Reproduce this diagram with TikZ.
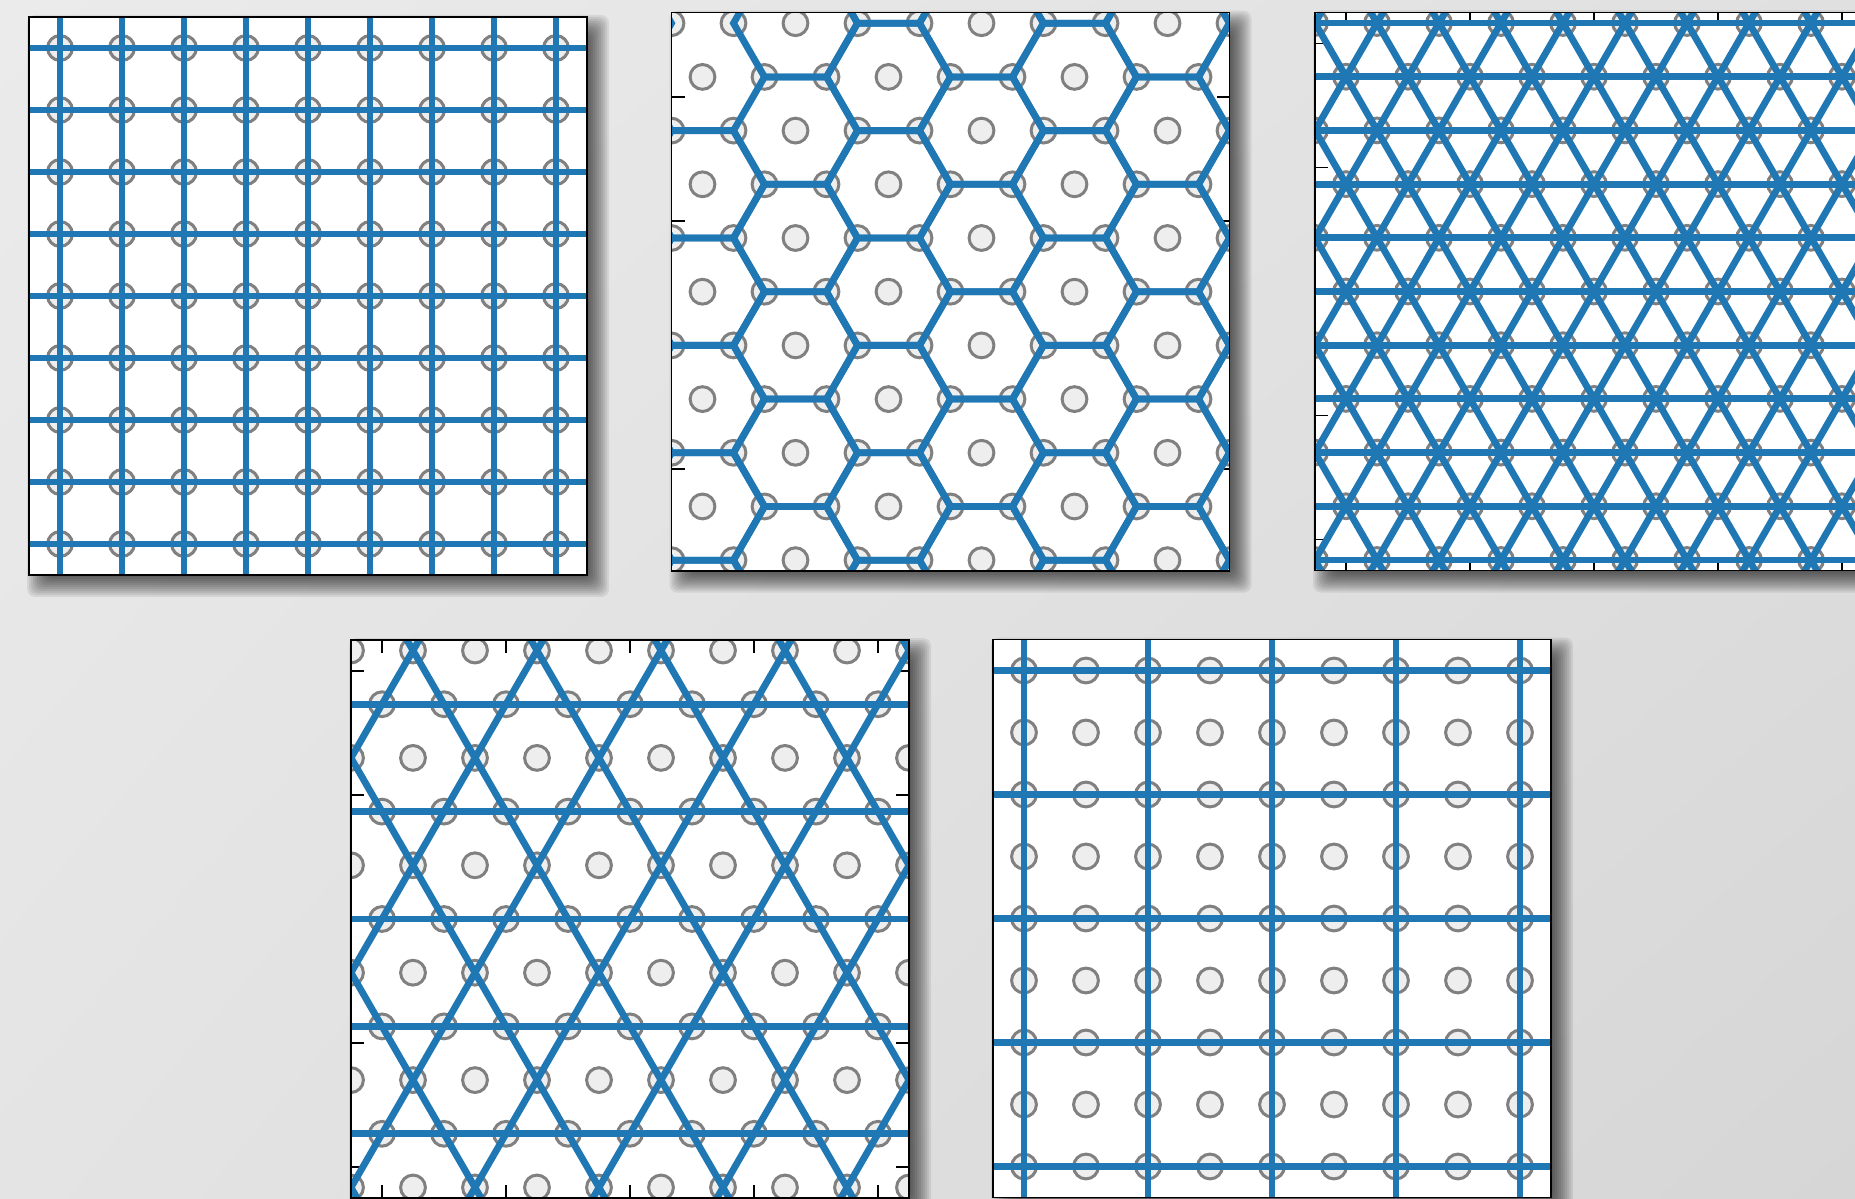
\documentclass[tikz,border=0pt]{standalone}
\usetikzlibrary{shadings}
\definecolor{tabblue}{HTML}{1F77B4}
\definecolor{cedge}{HTML}{808080}
\definecolor{cfill}{HTML}{EEEEEE}
\definecolor{bgUL}{HTML}{EBEBEB}
\definecolor{bgUR}{HTML}{E0E0E0}
\definecolor{bgLL}{HTML}{E4E4E4}
\definecolor{bgLR}{HTML}{D6D6D6}
\tikzset{
  site/.style={draw=cedge, fill=cfill, line width=3pt},
  bond/.style={draw=tabblue, line width=6.8pt, line join=miter},
  panelframe/.style={draw=black, line width=1.6pt},
  tickmark/.style={draw=black, line width=1.3pt},
  shadowlayer/.style={fill=black, fill opacity=0.075, rounded corners=8pt},
}
\newcommand{\ShadowAt}[2]{%
  \foreach \e in {12,10,8,6,4,2,0,-2,-4,-6,-8}{%
    \path[shadowlayer] ({#1+10-(\e)},{#2+10-(\e)}) rectangle ({#1+568+(\e)},{#2+568+(\e)});
  }%
}
\newcommand{\TriSites}{%
  \foreach \j in {0,...,10}{%
    \pgfmathsetmacro{\yy}{0.17+0.8660254*\j}%
    \pgfmathsetmacro{\xo}{0.5*mod(\j,2)}%
    \foreach \i in {-1,...,9}{\draw[site] (\xo+\i,\yy) circle[radius=12.4pt];}%
  }%
}
\begin{document}
\begin{tikzpicture}[x=1pt,y=-1pt]
\useasboundingbox (0,0) rectangle (1855,1199);
\shade[upper left=bgUL, upper right=bgUR, lower left=bgLL, lower right=bgLR] (0,0) rectangle (1855,1199);

% ---------- Panel 1: square lattice ----------
\ShadowAt{29}{17}
\begin{scope}[shift={(29,575)}, x=62pt, y=62pt]
  \fill[white] (0,0) rectangle (9,9);
  \begin{scope}
    \clip (0,0) rectangle (9,9);
    \foreach \i in {0,...,8}{\foreach \k in {0,...,8}{\draw[site] (\i+0.5,\k+0.5) circle[radius=12.4pt];}}
    \foreach \i in {0,...,8}{\draw[bond] (\i+0.5,-0.5) -- (\i+0.5,9.5); \draw[bond] (-0.5,\i+0.5) -- (9.5,\i+0.5);}
  \end{scope}
  \draw[panelframe] (0,0) rectangle (9,9);
\end{scope}

% ---------- Panel 2: honeycomb ----------
\ShadowAt{671.5}{12.7}
\begin{scope}[shift={(671.5,570.7)}, x=62pt, y=62pt]
  \fill[white] (0,0) rectangle (9,9);
  \begin{scope}
    \clip (0,0) rectangle (9,9);
    \foreach \t in {1.64,3.64,5.64,7.64}{\draw[tickmark] (0,\t) -- ++(13pt,0); \draw[tickmark] (9,\t) -- ++(-13pt,0);}
    \TriSites
    \foreach \j in {-1,...,11}{%
      \foreach \m in {-1,...,3}{%
        \pgfmathsetmacro{\cx}{2-1.5*mod(\j+2,2)+3*\m}%
        \pgfmathsetmacro{\cy}{0.17+0.8660254*\j}%
        \pgfmathtruncatemacro{\skp}{and(\m==0,or(\j==9,\j==11))}%
        \ifnum\skp=0
          \draw[bond] (\cx+1,\cy) -- (\cx+0.5,\cy+0.8660254) -- (\cx-0.5,\cy+0.8660254) -- (\cx-1,\cy) -- (\cx-0.5,\cy-0.8660254) -- (\cx+0.5,\cy-0.8660254) -- cycle;
        \fi
      }%
    }
  \end{scope}
  \draw[panelframe] (0,0) rectangle (9,9);
\end{scope}

% ---------- Panel 3: triangular ----------
\ShadowAt{1315}{12.5}
\begin{scope}[shift={(1315,570.5)}, x=62pt, y=62pt]
  \fill[white] (0,0) rectangle (9,9);
  \begin{scope}
    \clip (0,0) rectangle (9,9);
    \foreach \t in {0.5,2.5,4.5,6.5,8.5}{%
      \draw[tickmark] (0,\t) -- ++(13pt,0); \draw[tickmark] (9,\t) -- ++(-13pt,0);
      \draw[tickmark] (\t,0) -- ++(0,13pt); \draw[tickmark] (\t,9) -- ++(0,-13pt);}
    \TriSites
    \foreach \j in {0,...,10}{\draw[bond] (-1,{0.17+0.8660254*\j}) -- (10,{0.17+0.8660254*\j});}
    \foreach \m in {-7,...,10}{\draw[bond] ({\m+(-1-0.17)/1.7320508},-1) -- ({\m+(10-0.17)/1.7320508},10);}
    \foreach \m in {0,...,16}{\draw[bond] ({\m-(-1-0.17)/1.7320508},-1) -- ({\m-(10-0.17)/1.7320508},10);}
  \end{scope}
  \draw[panelframe] (0,0) rectangle (9,9);
\end{scope}

% ---------- Panel 4: kagome ----------
\ShadowAt{351}{640}
\begin{scope}[shift={(351,1198)}, x=62pt, y=62pt]
  \fill[white] (0,0) rectangle (9,9);
  \begin{scope}
    \clip (0,0) rectangle (9,9);
    \foreach \t in {0.5,2.5,4.5,6.5,8.5}{%
      \draw[tickmark] (0,\t) -- ++(13pt,0); \draw[tickmark] (9,\t) -- ++(-13pt,0);
      \draw[tickmark] (\t,0) -- ++(0,13pt); \draw[tickmark] (\t,9) -- ++(0,-13pt);}
    \TriSites
    \foreach \j in {1,3,5,7,9}{\draw[bond] (-1,{0.17+0.8660254*\j}) -- (10,{0.17+0.8660254*\j});}
    \foreach \m in {-4,...,5}{\draw[bond] ({2*\m+(-1-0.17)/1.7320508},-1) -- ({2*\m+(10-0.17)/1.7320508},10);}
    \foreach \m in {0,...,9}{\draw[bond] ({2*\m-(-1-0.17)/1.7320508},-1) -- ({2*\m-(10-0.17)/1.7320508},10);}
  \end{scope}
  \draw[panelframe] (0,0) rectangle (9,9);
\end{scope}

% ---------- Panel 5: square lattice, every second line ----------
\ShadowAt{993}{639.5}
\begin{scope}[shift={(993,1197.5)}, x=62pt, y=62pt]
  \fill[white] (0,0) rectangle (9,9);
  \begin{scope}
    \clip (0,0) rectangle (9,9);
    \foreach \i in {0,...,8}{\foreach \k in {0,...,8}{\draw[site] (\i+0.5,\k+0.5) circle[radius=12.4pt];}}
    \foreach \i in {0.5,2.5,4.5,6.5,8.5}{\draw[bond] (\i,-0.5) -- (\i,9.5); \draw[bond] (-0.5,\i) -- (9.5,\i);}
  \end{scope}
  \draw[panelframe] (0,0) rectangle (9,9);
\end{scope}
\end{tikzpicture}
\end{document}
